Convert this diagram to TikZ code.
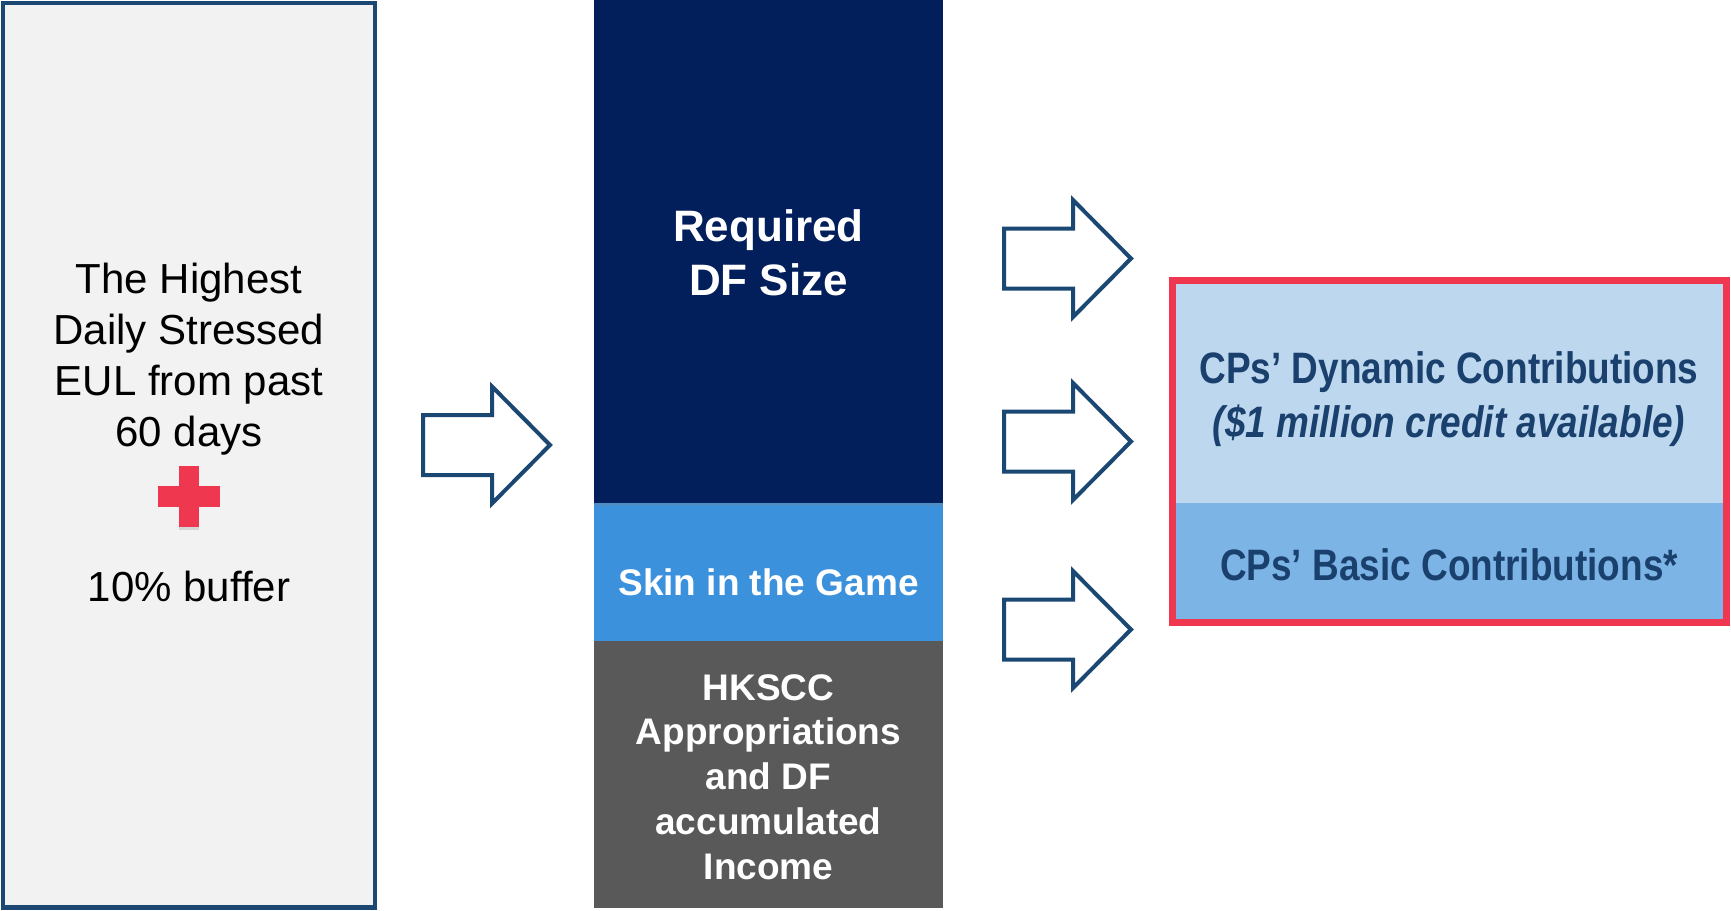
\documentclass[tikz,border=0pt]{standalone}
\usepackage{fontspec}
\setmainfont{Liberation Sans}
\newfontfamily\narrowfont[FakeStretch=0.84]{Liberation Sans}
\usetikzlibrary{shadows}
\definecolor{darkblue}{RGB}{27,71,115}
\definecolor{leftgrey}{RGB}{242,242,242}
\definecolor{plusred}{RGB}{240,55,80}
\definecolor{navy}{RGB}{2,31,92}
\definecolor{skinblue}{RGB}{60,145,220}
\definecolor{darkgrey}{RGB}{89,89,89}
\definecolor{lightblue}{RGB}{189,215,238}
\definecolor{midblue}{RGB}{125,180,230}
\definecolor{textblue}{RGB}{26,64,110}
\tikzset{
  block/.style={inner sep=0pt, outer sep=0pt},
  lefttext/.style={align=center, text=black, font=\fontsize{42}{51}\selectfont},
  midtext/.style={align=center, text=white, font=\bfseries\fontsize{37}{44.75}\selectfont},
  righttext/.style={align=center, text=textblue, font=\narrowfont\bfseries\fontsize{44}{54}\selectfont},
  softshadow/.style={drop shadow={opacity=0.25, shadow xshift=0pt, shadow yshift=-3pt}},
  fatarrow/.pic={
    \draw[darkblue, line width=4pt, fill=white, line join=miter]
      (0,-30) -- (69,-30) -- (69,-58.5) -- (127,0) -- (69,58.5) -- (69,30) -- (0,30) -- cycle;
  }
}
\begin{document}
\begin{tikzpicture}[x=1pt,y=-1pt]
\useasboundingbox (0,0) rectangle (1731,910);

% left box
\node[block, draw=darkblue, line width=4.2pt, fill=leftgrey,
      minimum width=371.7pt, minimum height=904.2pt] (eul) at (189.15,455.4) {};
\node[lefttext] (eultext) at (189,359.3) {The Highest\\Daily Stressed\\EUL from past\\60 days};
\coordinate (plus) at (189,496.5);
\fill[plusred, softshadow] ([xshift=-10.25pt,yshift=30.5pt]plus) rectangle ([xshift=10.25pt,yshift=-30.5pt]plus);
\fill[plusred] ([xshift=-31pt,yshift=10.25pt]plus) rectangle ([xshift=31pt,yshift=-10.25pt]plus);
\fill[plusred] ([xshift=-10.25pt,yshift=30.5pt]plus) rectangle ([xshift=10.25pt,yshift=-30.5pt]plus);
\node[lefttext] (buffer) at (189,586) {10\% buffer};

% arrow 1
\pic at (423,445) {fatarrow};

% middle column
\node[block, fill=darkgrey, minimum width=349pt, minimum height=266.5pt] (hkscc) at (768.5,774.25) {};
\node[block, fill=skinblue, minimum width=349pt, minimum height=138pt] (skin) at (768.5,572) {};
\node[block, fill=navy, softshadow, minimum width=349pt, minimum height=503pt] (req) at (768.5,251.5) {};
\node[midtext, font=\bfseries\fontsize{44}{54}\selectfont] (reqtext) at (768.5,253) {Required\\DF Size};
\node[midtext] (skintext) at (768.5,582) {Skin in the Game};
\node[midtext] (hkscctext) at (768.5,777) {HKSCC\\Appropriations\\and DF\\accumulated\\Income};

% right arrows
\pic at (1004,258.5) {fatarrow};
\pic at (1004,441.5) {fatarrow};
\pic at (1004,629.5) {fatarrow};

% right box
\node[block, fill=white, softshadow, minimum width=554pt, minimum height=342pt] (cpshadow) at (1449,451) {};
\node[block, fill=lightblue, minimum width=548pt, minimum height=220pt] (dyn) at (1449,393) {};
\node[block, fill=midblue, minimum width=548pt, minimum height=116pt] (basic) at (1449,561) {};
\node[block, draw=plusred, line width=7pt, minimum width=554pt, minimum height=342pt] (cpbox) at (1449,451) {};
\node[righttext] (dyntext) at (1449,399.5) {CPs’ Dynamic Contributions\\{\itshape(\$1 million credit available)}};
\node[righttext] (basictext) at (1449,565) {CPs’ Basic Contributions*};
\end{tikzpicture}
\end{document}
